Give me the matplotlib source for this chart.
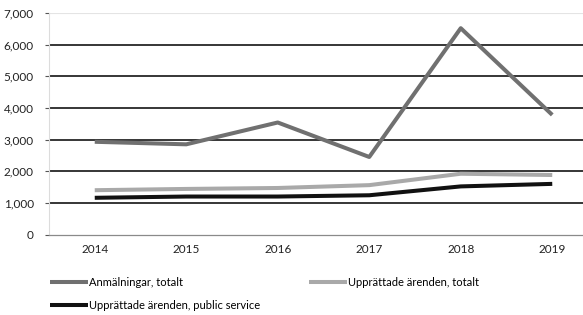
import matplotlib
matplotlib.use('Agg')
import matplotlib.pyplot as plt
import numpy as np

years = ['2014', '2015', '2016', '2017', '2018', '2019']
anmalningar = [2930, 2850, 3540, 2450, 6520, 3780]
upprattade_totalt = [1400, 1440, 1470, 1560, 1920, 1880]
upprattade_public = [1160, 1200, 1200, 1240, 1520, 1600]

labels = ['Anmälningar, totalt', 'Upprättade ärenden, totalt',
          'Upprättade ärenden, public service']
colors = ['#707070', '#a9a9a9', '#111111']

plt.rcParams['font.family'] = ['Lato', 'DejaVu Sans']
plt.rcParams['font.size'] = 8.5

fig = plt.figure(figsize=(5.83, 3.15), dpi=100)
# plot area is cropped on the right in the original
ax = fig.add_axes([49 / 583, 80.5 / 315, 549 / 583, 221.5 / 315])

x = np.arange(len(years))
lines = []
for vals, c, lab in zip([anmalningar, upprattade_totalt, upprattade_public], colors, labels):
    l, = ax.plot(x, vals, color=c, lw=2.9, label=lab, solid_capstyle='butt')
    lines.append(l)

ax.set_xlim(-0.5, 5.5)
ax.set_ylim(0, 7000)
ax.set_yticks(range(0, 7001, 1000))
ax.set_yticklabels(['{:,}'.format(v) for v in range(0, 7001, 1000)])
ax.set_xticks(x)
ax.set_xticklabels(years)

for v in range(1000, 7000, 1000):
    ax.axhline(v, color='black', lw=1.1, zorder=0)
ax.axhline(7000, color='#e4e4e4', lw=0.8, zorder=0)

for s in ['top', 'right']:
    ax.spines[s].set_visible(False)
ax.spines['left'].set_color('#dcdcdc')
ax.spines['left'].set_linewidth(0.8)
ax.spines['bottom'].set_color('#8a8a8a')
ax.spines['bottom'].set_linewidth(0.9)

ax.tick_params(axis='y', length=3, width=0.8, color='#555555', pad=8, labelcolor='#222222')
ax.tick_params(axis='x', length=0, pad=7, labelcolor='#222222')

handles = [lines[0], lines[2], lines[1]]
fig.legend(handles, [h.get_label() for h in handles], ncol=2,
           loc='upper left', bbox_to_anchor=(40 / 583, 48 / 315),
           frameon=False, handlelength=3.4, handletextpad=0.1,
           columnspacing=4.4, labelspacing=1.1, fontsize=8)

fig.savefig('out.png', dpi=100)
